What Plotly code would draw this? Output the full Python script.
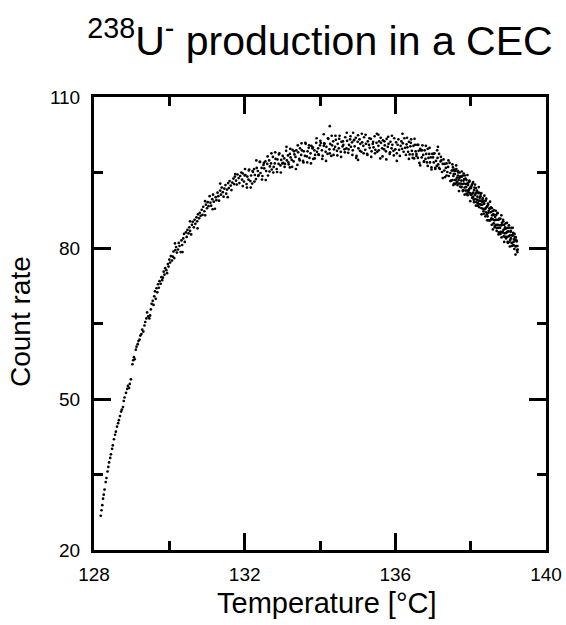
import plotly.graph_objects as go

# (temperature [°C], count rate)
rise = [(128.18,26.8),(128.20,27.9),(128.22,28.9),(128.24,30.2),(128.26,31.0),(128.28,32.0),
        (128.31,33.5),(128.33,34.3),(128.36,35.6),(128.38,36.5),(128.40,37.4),(128.43,38.3),
        (128.45,39.0),(128.48,40.1),(128.50,40.8),(128.53,42.0),(128.56,42.9),(128.58,43.5),
        (128.61,44.5),(128.64,45.2),(128.66,45.8),(128.69,46.6),(128.72,47.5),(128.74,47.9),
        (128.77,48.4),(128.79,49.6),(128.81,50.3),(128.85,51.2),(128.88,52.0),(128.90,52.6),
        (128.93,52.2),(128.95,53.0),(128.98,53.9),(129.02,56.9),(129.04,57.7),(129.06,58.3),
        (129.08,57.9),(129.11,59.8),(129.13,60.4),(129.16,60.9),(129.18,61.5),(129.21,61.8),
        (129.23,62.6),(129.26,62.9),(129.28,63.8),(129.31,63.4),(129.34,64.6),(129.36,65.3),
        (129.39,66.0),(129.41,67.2),(129.44,66.4),(129.47,66.0),(129.49,66.6),(129.51,67.8),
        (129.53,68.9),(129.56,69.5),(129.58,68.7)]

shoulder = [(129.60,70.4),(129.62,71.4),(129.64,69.9),(129.66,72.0),(129.68,71.2),(129.70,72.8),
            (129.72,72.1),(129.74,73.4),(129.77,72.9),(129.79,74.2),(129.81,73.6),(129.83,74.1),
            (129.85,75.3),(129.87,74.7),(129.89,76.0),(129.92,75.6),(129.94,75.0),(129.96,76.8),
            (129.98,76.3),(130.00,77.7),(130.02,77.1),(130.04,78.4),(130.07,77.5),(130.09,78.3),
            (130.11,79.3),(130.13,78.0),(130.16,79.6),(130.18,80.2),(130.20,79.1),(130.23,79.7),
            (130.25,81.0),(130.27,80.4),(130.30,79.2),(130.32,81.5),(130.34,80.6),(130.37,81.9),
            (130.39,82.8),(130.41,81.2),(130.44,83.1),(130.46,82.2),(130.48,83.6),(130.51,82.9),
            (130.53,84.1),(130.55,83.4),(130.58,82.7),(130.60,84.6),(130.62,85.2),(130.65,84.1),
            (130.67,85.6),(130.69,84.8),(130.72,86.1),(130.74,85.3),(130.76,86.7),(130.79,85.9),
            (130.81,87.0),(130.83,86.4),(130.86,87.6),(130.88,86.6),(130.90,88.2),(130.93,87.3),
            (130.95,86.5),(130.97,88.6),(131.00,87.9),(131.02,89.1),(131.04,88.3),(131.07,90.3),
            (131.09,89.0),(131.11,88.4),(131.14,89.7),(131.16,90.6),(131.18,89.2),(131.21,87.8),
            (131.23,90.1),(131.25,89.5),(131.28,91.0),(131.30,90.3),(131.32,89.4),(131.35,91.4),
            (131.37,90.6),(131.39,92.0),(131.42,91.1),(131.44,90.2),(131.46,91.8),(131.49,92.5),
            (131.51,90.8),(131.53,91.6),(131.56,92.9),(131.58,91.9),(131.60,93.3),(131.63,92.4),
            (131.65,91.5),(131.67,93.0),(131.70,93.8),(131.72,92.7),(131.74,94.2),(131.77,93.4),
            (131.79,92.6),(131.81,94.6),(131.84,93.9),(131.86,92.9),(131.88,94.3),(131.91,95.0),
            (131.93,93.6),(131.95,94.8),(131.98,93.2),(132.00,94.4),
            (130.15,80.9),(130.35,79.2),(130.55,85.3),(130.75,83.9),(130.95,89.3),(131.15,87.7),
            (131.35,92.8),(131.55,90.1),(131.75,94.7),(131.95,92.3)]

peak = [(132.02,94.5),(132.05,92.7),(132.07,94.2),(132.10,93.6),(132.12,95.6),(132.15,93.3),
        (132.17,94.4),(132.20,92.8),(132.22,95.1),(132.25,95.7),(132.27,94.5),(132.30,93.7),
        (132.32,95.9),(132.35,95.3),(132.37,94.5),(132.40,97.1),(132.42,94.9),(132.45,95.9),
        (132.47,94.3),(132.50,96.5),(132.52,95.8),(132.55,97.2),(132.57,95.3),(132.60,96.7),
        (132.62,94.4),(132.65,97.4),(132.67,96.2),(132.70,96.8),(132.72,95.6),(132.75,98.1),
        (132.77,96.1),(132.80,96.8),(132.82,97.7),(132.85,95.7),(132.87,97.6),(132.90,96.7),
        (132.92,98.8),(132.95,96.4),(132.97,97.5),(133.00,96.8),(133.02,96.9),(133.05,97.8),
        (133.07,96.7),(133.10,99.3),(133.12,97.4),(133.15,98.4),(133.17,96.6),(133.20,98.7),
        (133.22,98.0),(133.25,97.5),(133.27,99.5),(133.30,97.2),(133.32,98.6),(133.35,98.1),
        (133.37,99.4),(133.40,96.5),(133.42,99.0),(133.45,97.7),(133.47,99.8),(133.50,98.5),
        (133.52,99.4),(133.55,97.3),(133.57,99.2),(133.60,98.3),(133.62,100.7),(133.65,98.2),
        (133.67,99.2),(133.70,99.9),(133.72,97.9),(133.75,98.8),(133.77,100.3),(133.80,99.8),
        (133.82,97.7),(133.85,99.4),(133.87,98.5),(133.90,100.9),(133.92,99.1),(133.95,99.8),
        (133.97,98.5),(134.00,100.4),(134.02,100.9),(134.05,99.4),(134.07,98.3),(134.10,100.3),
        (134.12,100.7),(134.15,99.1),(134.17,100.1),(134.20,98.7),(134.22,101.7),(134.25,99.6),
        (134.27,100.7),(134.30,98.3),(134.32,100.4),(134.35,101.2),(134.37,99.6),(134.40,100.1),
        (134.42,101.5),(134.45,99.3),(134.47,100.7),(134.50,99.8),(134.52,102.3),(134.55,99.1),
        (134.57,101.1),(134.60,100.2),(134.62,100.5),(134.65,99.6),(134.67,102.0),(134.70,99.8),
        (134.72,101.3),(134.75,98.9),(134.77,100.5),(134.80,101.6),(134.82,100.1),(134.85,101.0),
        (134.87,99.4),(134.90,101.4),(134.92,100.2),(134.95,101.9),(134.97,98.3),(135.00,101.1),
        (135.02,99.8),(135.05,101.6),(135.07,100.7),(135.10,99.1),(135.12,101.0),(135.15,100.3),
        (135.17,102.0),(135.20,99.5),(135.22,100.7),(135.25,98.7),(135.27,101.2),(135.30,100.5),
        (135.32,99.9),(135.35,101.7),(135.37,99.2),(135.40,100.7),(135.42,100.0),(135.45,102.2),
        (135.47,99.5),(135.50,100.9),(135.52,99.1),(135.55,100.3),(135.57,101.2),(135.60,97.8),
        (135.62,100.9),(135.65,99.8),(135.67,101.4),(135.70,99.6),(135.72,100.4),(135.75,99.2),
        (135.77,101.7),(135.80,100.1),(135.82,100.7),(135.85,98.7),(135.87,101.1),(135.90,99.8),
        (135.92,100.5),(135.95,99.3),(135.97,101.8),(136.00,99.6)]

peak_spread = [(132.01,95.7),(132.06,92.0),(132.11,95.4),(132.16,92.0),(132.21,95.3),(132.26,93.2),
               (132.31,97.4),(132.36,94.3),(132.41,97.1),(132.46,93.6),(132.51,96.9),(132.56,93.5),
               (132.61,98.2),(132.66,95.2),(132.71,98.8),(132.76,95.0),(132.81,99.0),(132.86,95.1),
               (132.91,98.6),(132.96,95.0),(133.01,98.3),(133.06,96.1),(133.11,100.1),(133.16,97.0),
               (133.21,99.7),(133.26,96.1),(133.31,99.2),(133.36,95.7),(133.41,100.4),(133.46,97.4),
               (133.51,100.8),(133.56,97.0),(133.61,100.9),(133.66,97.0),(133.71,100.4),(133.76,96.8),
               (133.81,100.0),(133.86,97.8),(133.91,101.8),(133.96,98.6),(134.01,101.3),(134.06,97.7),
               (134.11,100.8),(134.16,97.3),(134.21,101.8),(134.26,98.8),(134.31,102.3),(134.36,98.5),
               (134.41,102.3),(134.46,98.4),(134.51,101.7),(134.56,98.1),(134.61,101.2),(134.66,99.0),
               (134.71,102.9),(134.76,99.6),(134.81,102.2),(134.86,98.5),(134.91,101.5),(134.96,97.9),
               (135.01,102.4),(135.06,99.3),(135.11,102.7),(135.16,98.8),(135.21,102.5),(135.26,98.5),
               (135.31,101.8),(135.36,98.1),(135.41,101.1),(135.46,98.8),(135.51,102.7),(135.56,99.4),
               (135.61,101.9),(135.66,98.2),(135.71,101.2),(135.76,97.6),(135.81,102.1),(135.86,99.0),
               (135.91,102.3),(135.96,98.4)]

strays = [(134.26,104.2),(134.88,102.9),(136.19,102.7),(135.01,97.5),(136.04,97.3),
          (133.20,96.0),(134.10,102.6),(135.55,102.5),(137.13,100.1)]

fall = [(136.02,101.0),(136.04,98.8),(136.06,100.5),(136.08,101.6),(136.10,99.5),(136.12,98.3),
        (136.14,100.3),(136.16,101.2),(136.18,99.7),(136.20,100.8),(136.22,99.1),(136.24,101.8),
        (136.26,99.9),(136.28,98.5),(136.30,100.6),(136.32,100.0),(136.34,99.1),(136.36,101.1),
        (136.38,98.6),(136.40,100.2),(136.42,101.6),(136.44,99.3),(136.46,98.6),(136.48,100.3),
        (136.50,97.8),(136.52,100.5),(136.54,99.2),(136.56,98.7),(136.58,100.5),(136.60,97.9),
        (136.62,99.3),(136.64,96.9),(136.66,99.7),(136.68,99.4),(136.70,98.0),(136.72,100.4),
        (136.74,98.5),(136.76,97.1),(136.78,99.4),(136.80,97.7),(136.82,98.7),(136.84,97.0),
        (136.86,99.7),(136.88,97.9),(136.90,98.7),(136.92,97.0),(136.94,98.0),(136.96,96.0),
        (136.98,98.7),(137.00,98.0),(137.02,97.0),(137.04,98.8),(137.06,95.9),(137.08,97.3),
        (137.10,96.3),(137.12,97.9),(137.14,96.6),(137.16,98.7),(137.18,95.7),(137.20,97.2),
        (137.22,97.4),(137.24,95.1),(137.26,96.7),(137.28,97.6),(137.30,95.4),(137.32,94.1),
        (137.34,95.9),(137.36,96.8),(137.38,95.1),(137.40,96.1),(137.42,94.3),(137.44,96.9),
        (137.46,94.9),(137.48,93.4),(137.50,95.4),
        (136.31,101.9),(136.36,97.7),(136.41,100.9),(136.46,97.9),(136.51,101.7),(136.56,98.3),
        (136.61,100.5),(136.66,96.4),(136.71,99.4),(136.76,97.2),(136.81,100.3),(136.86,96.3),
        (136.91,99.9),(136.96,95.6),(137.01,98.7),(137.06,95.7),(137.11,99.4),(137.16,95.9),
        (137.21,98.1),(137.26,93.9),(137.31,96.7),(137.36,94.4),(137.41,97.4),(137.46,93.3)]

tail = [(137.51,95.4),(137.52,93.5),(137.53,96.0),(137.54,94.3),(137.55,94.7),(137.56,92.8),
        (137.57,95.3),(137.58,94.7),(137.59,93.5),(137.60,95.3),(137.61,93.6),(137.62,95.7),
        (137.63,93.0),(137.64,94.0),(137.65,92.5),(137.66,94.4),(137.67,95.0),(137.68,93.5),
        (137.69,92.8),(137.70,93.9),(137.71,95.0),(137.72,92.2),(137.73,94.2),(137.74,92.8),
        (137.75,93.4),(137.76,92.1),(137.77,94.2),(137.78,92.7),(137.79,94.4),(137.80,91.5),
        (137.81,93.4),(137.82,92.8),(137.83,93.7),(137.84,92.0),(137.85,94.4),(137.86,91.4),
        (137.87,92.7),(137.88,92.1),(137.89,93.5),(137.90,91.4),(137.91,92.8),(137.92,90.5),
        (137.93,92.5),(137.94,93.0),(137.95,91.5),(137.96,91.7),(137.97,93.2),(137.98,90.9),
        (137.99,92.0),(138.00,90.6),(138.01,91.9),(138.02,90.6),(138.03,92.5),(138.04,90.8),
        (138.05,92.8),(138.06,90.1),(138.07,91.0),(138.08,89.6),(138.09,91.5),(138.10,92.0),
        (138.11,90.5),(138.12,89.7),(138.13,90.8),(138.14,91.9),(138.15,89.1),(138.16,91.1),
        (138.17,89.6),(138.18,90.2),(138.19,88.9),(138.20,90.9),(138.21,89.4),(138.22,91.0),
        (138.23,88.1),(138.24,90.0),(138.25,89.4),(138.26,90.3),(138.27,88.6),(138.28,90.9),
        (138.29,87.9),(138.30,89.2),(138.31,88.6),(138.32,89.9),(138.33,87.8),(138.34,89.2),
        (138.35,86.8),(138.36,88.8),(138.37,89.3),(138.38,87.7),(138.39,87.9),(138.40,89.4),
        (138.41,87.1),(138.42,88.1),(138.43,86.7),(138.44,88.3),(138.45,86.3),(138.46,88.8),
        (138.47,87.0),(138.48,87.4),(138.49,85.5),(138.50,87.9),(138.51,87.8),(138.52,85.5),
        (138.53,87.1),(138.54,88.1),(138.55,85.9),(138.56,84.6),(138.57,86.5),(138.58,87.3),
        (138.59,85.7),(138.60,86.7),(138.61,84.9),(138.62,87.5),(138.63,85.5),(138.64,84.1),
        (138.65,86.2),(138.66,85.6),(138.67,84.6),(138.68,86.6),(138.69,84.0),(138.70,85.6),
        (138.71,87.0),(138.72,84.6),(138.73,84.0),(138.74,85.6),(138.75,83.1),(138.76,85.8),
        (138.77,84.5),(138.78,84.0),(138.79,85.8),(138.80,83.2),(138.81,84.5),(138.82,82.1),
        (138.83,85.0),(138.84,84.6),(138.85,83.2),(138.86,85.6),(138.87,83.6),(138.88,82.3),
        (138.89,84.6),(138.90,82.9),(138.91,83.8),(138.92,82.2),(138.93,84.9),(138.94,83.0),
        (138.95,83.9),(138.96,82.2),(138.97,83.2),(138.98,81.2),(138.99,84.0),(139.00,83.3),
        (139.01,82.3),(139.02,84.0),(139.03,81.2),(139.04,82.5),(139.05,81.6),(139.06,83.2),
        (139.07,81.9),(139.08,84.0),(139.09,81.0),(139.10,82.5),(139.11,82.5),(139.12,80.5),
        (139.13,83.0),(139.14,81.2),(139.15,81.7),(139.16,79.8),(139.17,82.2),(139.18,81.6),
        (139.19,80.3),(139.20,82.1),(139.21,80.4),(139.22,81.3),(139.23,79.6),(139.24,80.4),
        (139.25,79.7)]

tail_spread = [(137.515,96.6),(137.540,92.5),(137.565,95.6),(137.590,92.7),(137.615,96.4),
               (137.640,93.1),(137.665,95.3),(137.690,91.3),(137.715,94.2),(137.740,92.1),
               (137.765,95.2),(137.790,91.3),(137.815,94.8),(137.840,90.6),(137.865,93.8),
               (137.890,90.8),(137.915,94.5),(137.940,91.1),(137.965,93.4),(137.990,89.3),
               (138.015,92.2),(138.040,90.0),(138.065,93.1),(138.090,89.1),(138.115,92.6),
               (138.140,88.4),(138.165,91.4),(138.190,88.4),(138.215,92.1),(138.240,88.7),
               (138.265,90.8),(138.290,86.7),(138.315,89.6),(138.340,87.3),(138.365,90.4),
               (138.390,86.3),(138.415,89.8),(138.440,85.5),(138.465,88.6),(138.490,85.5),
               (138.515,89.2),(138.540,85.7),(138.565,87.9),(138.590,83.7),(138.615,86.6),
               (138.640,84.4),(138.665,87.4),(138.690,83.4),(138.715,86.9),(138.740,82.7),
               (138.765,85.8),(138.790,82.8),(138.815,86.5),(138.840,83.1),(138.865,85.3),
               (138.890,81.2),(138.915,84.1),(138.940,81.9),(138.965,85.0),(138.990,81.0),
               (139.015,84.5),(139.040,80.3),(139.065,83.4),(139.090,80.4),(139.115,84.0),
               (139.140,80.6),(139.165,82.8),(139.190,78.7),(139.215,81.5),(139.240,79.2)]

x_tick_vals = [128, 132, 136, 140]
x_tick_text = ["128", "132", "136", "140"]
x_minor_vals = [130, 134, 138]
y_tick_vals = [20, 50, 80, 110]
y_tick_text = ["20", "50", "80", "110"]
y_minor_vals = [35, 65, 95]

points = rise + shoulder + peak + peak_spread + strays + fall + tail + tail_spread
temperature = [p[0] for p in points]
count_rate = [p[1] for p in points]

FONT = "Liberation Sans, Arial, Helvetica, sans-serif"

fig = go.Figure()
fig.add_trace(go.Scatter(
    x=temperature, y=count_rate, mode="markers",
    marker=dict(color="black", size=2.7, line=dict(width=0)),
    hoverinfo="x+y", showlegend=False,
))

axis_common = dict(
    showgrid=False, zeroline=False, showline=True, linecolor="black", linewidth=3,
    mirror="ticks", ticks="inside", ticklen=17, tickwidth=2.5, tickcolor="black",
    tickfont=dict(family=FONT, size=19, color="black"), automargin=False,
)

fig.update_xaxes(
    range=[128, 140], tickvals=x_tick_vals, ticktext=x_tick_text,
    minor=dict(tickvals=x_minor_vals, ticks="inside", ticklen=9, tickwidth=2.5, tickcolor="black"),
    ticklabelstandoff=5, **axis_common,
)
fig.update_yaxes(
    range=[20, 110], tickvals=y_tick_vals, ticktext=y_tick_text,
    minor=dict(tickvals=y_minor_vals, ticks="inside", ticklen=9, tickwidth=2.5, tickcolor="black"),
    ticklabelstandoff=7, **axis_common,
)

fig.update_layout(
    width=566, height=625, autosize=False,
    margin=dict(l=94, r=20, t=97, b=75, autoexpand=False),
    paper_bgcolor="white", plot_bgcolor="white",
    font=dict(family=FONT, color="black"),
    title=dict(
        text="<sup>238</sup>U<sup>-</sup> production in a CEC",
        x=320 / 566, xanchor="center", xref="container",
        y=1 - 41 / 625, yanchor="middle", yref="container",
        font=dict(family=FONT, size=41, color="black"),
    ),
    annotations=[
        dict(text="Temperature [°C]", xref="paper", yref="paper",
             x=(327 - 94) / 452, y=-(603 - 550) / 453, xanchor="center", yanchor="middle",
             showarrow=False, font=dict(family=FONT, size=29, color="black")),
        dict(text="Count rate", xref="paper", yref="paper", textangle=-90,
             x=(20 - 94) / 452, y=(550 - 322) / 453, xanchor="center", yanchor="middle",
             showarrow=False, font=dict(family=FONT, size=28, color="black")),
    ],
)

fig.write_html("out.html", config={"displayModeBar": False, "responsive": False},
               post_script="document.body.style.margin='0px';")
